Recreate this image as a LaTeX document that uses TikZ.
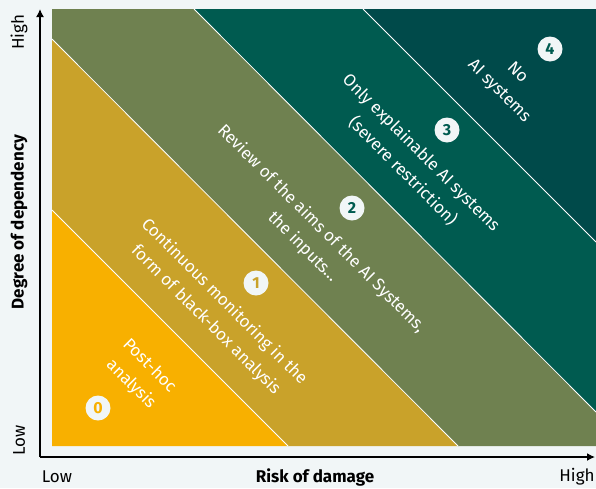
\documentclass[tikz,border=0pt]{standalone}
\usepackage{fontspec}
\setmainfont{Fira Sans}
\usetikzlibrary{arrows.meta}
\definecolor{bg}{HTML}{F1F6F7}
\definecolor{cz}{HTML}{F8B000}
\definecolor{co}{HTML}{C9A22A}
\definecolor{ct}{HTML}{6F8150}
\definecolor{cth}{HTML}{005B50}
\definecolor{cf}{HTML}{004A4A}
\begin{document}
\begin{tikzpicture}[x=1pt,y=-1pt,
 lbl/.style={text=white,align=center,rotate=-45,inner sep=0pt,font=\fontsize{17}{26}\selectfont},
 num/.style={circle,fill=bg,minimum size=25pt,inner sep=0pt,font=\fontsize{16}{16}\selectfont\bfseries},
 sep/.style={white,line width=0.8pt},
 axisline/.style={line width=1.5pt,-{Latex[length=8pt,width=8pt]}},
 axlbl/.style={inner sep=0pt,font=\fontsize{17}{20}\selectfont},
 axtitle/.style={inner sep=0pt,font=\fontsize{17}{20}\selectfont\bfseries}]
\fill[bg] (0,0) rectangle (596,488);
\useasboundingbox (0,0) rectangle (596,488);
% regions
\fill[cf] (52,9) rectangle (596,446);
\fill[cth] (194,9) -- (363,9) -- (596,242) -- (596,412) -- cycle;
\fill[ct] (52,9) -- (194,9) -- (596,412) -- (596,446) -- (458,446) -- (52,39) -- cycle;
\fill[co] (52,39) -- (458,446) -- (288,446) -- (52,210) -- cycle;
\fill[cz] (52,210) -- (288,446) -- (52,446) -- cycle;
\draw[sep] (52,210) -- (288,446);
\draw[sep] (52,39) -- (458,446);
\draw[sep] (194,9) -- (596,412);
\draw[sep] (363,9) -- (596,242);
% labels
\node[lbl] (l0) at (140,375) {Post-hoc\\analysis};
\node[lbl] (l1) at (215,311) {Continuous monitoring in the\\form of black-box analysis};
\node[lbl] (l2) at (312,238) {Review of the aims of the AI Systems,\\the inputs\dots};
\node[lbl] (l3) at (412,162) {Only explainable AI systems\\(severe restriction)};
\node[lbl] (l4) at (508,82) {No\\AI systems};
\node[num,text=cz] (n0) at (98,408) {0};
\node[num,text=co] (n1) at (256,283) {1};
\node[num,text=cth] (n2) at (352,208) {2};
\node[num,text=cth] (n3) at (447,130) {3};
\node[num,text=cth] (n4) at (550,49) {4};
% axes
\coordinate (O) at (40,457);
\coordinate (ytop) at (40,9);
\coordinate (xend) at (595,457);
\draw[axisline] (O) -- (ytop);
\draw[axisline] (O) -- (xend);
\node[axlbl,rotate=90] (yhigh) at (19,32) {High};
\node[axlbl,rotate=90] (ylow) at (19,440) {Low};
\node[axtitle,rotate=90] (ytitle) at (19,222) {Degree of dependency};
\node[axlbl] (xlow) at (57,477) {Low};
\node[axtitle] (xtitle) at (315,477) {Risk of damage};
\node[axlbl] (xhigh) at (577,477) {High};
\end{tikzpicture}
\end{document}
